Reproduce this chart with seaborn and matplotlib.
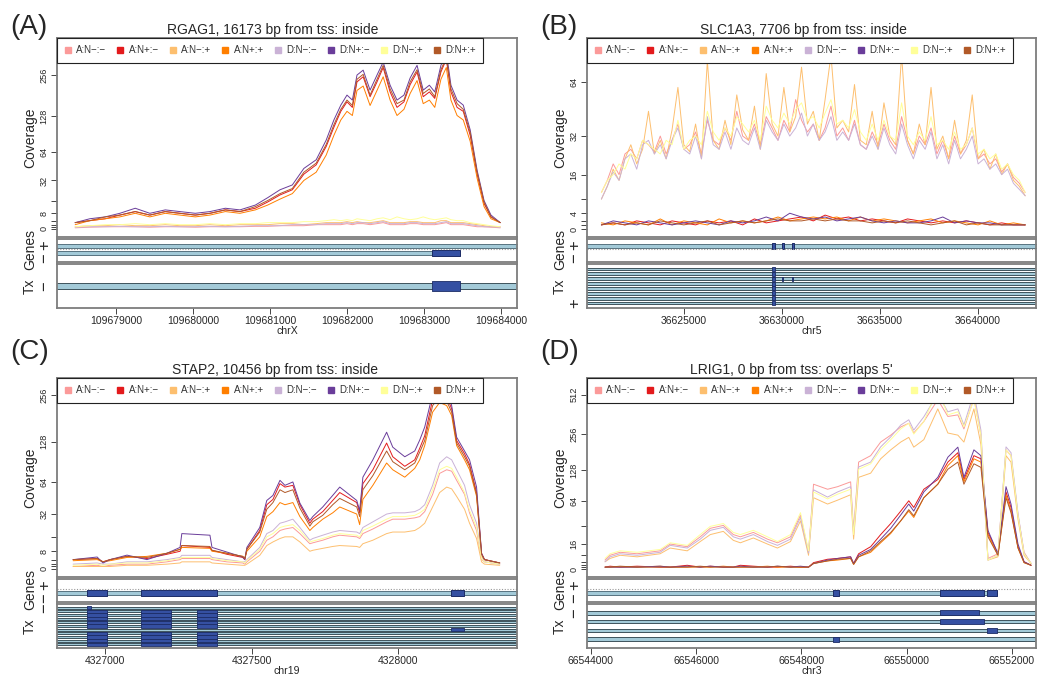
import numpy as np
import matplotlib
matplotlib.use("Agg")
import matplotlib.pyplot as plt
import seaborn as sns
from matplotlib.lines import Line2D

sns.set_style("white")
plt.rcParams['font.family'] = ['Liberation Sans', 'DejaVu Sans']

# ---------------- data ----------------
SAMPLES = ["A:N\u2212:\u2212", "A:N+:\u2212", "A:N\u2212:+", "A:N+:+",
           "D:N\u2212:\u2212", "D:N+:\u2212", "D:N\u2212:+", "D:N+:+"]

# Panel A: RGAG1 (chrX)
A_start = 109678000
A_off = [470, 660, 860, 1050, 1250, 1440, 1640, 1830, 2030, 2220,
         2420, 2610, 2810, 2970, 3130, 3290, 3440, 3600, 3730, 3830,
         3920, 4000, 4070, 4130, 4210, 4300, 4390, 4470, 4560, 4650,
         4740, 4820, 4910, 4990, 5070, 5140, 5220, 5290, 5350, 5430,
         5510, 5600, 5690, 5780, 5870, 5990]
A_Nm_m = [0.5,0.8,1,1,1,0.8,1,1,0.8,1, 1,1,1.2,1.2,1.5,1.5,1.5,2,2,2, 2,2.5,2,2.5,2.5,2,2.5,3,2,2,
          2,2.5,2.5,2,2,2,2.5,3,2,2, 2,1.5,1,1,0.8,0.5]
A_Np_m = [3,4,5,7,9,7,9,8,7,8, 10,9,11,15,20,24,38,48,72,105, 140,165,150,230,250,180,230,290,195,150,
          165,220,270,180,195,175,270,330,195,150, 140,90,38,14,6,3]
A_Nm_p = [1,1.5,1.5,2,1.5,1.5,2,1.5,1.5,2, 1.5,2,2,2,2.5,2.5,2,2.5,3,3, 3,3.5,3,3.5,3,3,3.5,4,3,3,
          3,3.5,3.5,3,3,3,4,4,3,3, 3,2.5,2,1.5,1,1]
A_Np_p = [2,4,5,6,8,6,8,7,6,7, 9,8,10,13,17,21,32,40,60,90, 120,140,130,200,215,155,200,250,170,130,
          145,190,235,160,170,150,240,290,170,130, 120,80,34,12,5,3]
D_Nm_m_A = [0.8,1,1,1.2,1,1,1.2,1,1,1.2, 1,1.2,1.5,1.5,1.5,2,2,2,2.5,2.5, 2.5,3,2.5,3,3,2.5,3,3.5,2.5,2.5,
            2.5,3,3,2.5,2.5,2.5,3,3.5,2.5,2.5, 2.5,2,1.5,1,1,0.8]
D_Np_m_A = [3,5,6,8,11,8,10,9,8,9, 11,10,13,18,24,28,44,54,82,120, 156,185,170,257,278,201,257,316,218,170,
            185,245,300,201,218,195,300,370,218,170, 156,100,42,16,7,3]
D_Nm_p_A = [1,1.5,2,2,2.5,2,2.5,2,2,2.5, 2,2.5,2.5,3,3,3,3.5,3.5,4,4.5, 4,4.5,4,5,4.5,4,5,5.5,4.5,6,
            5,4.5,5,6,5,4.5,5,5.5,4.5,4, 4,3,2.5,2,1.5,1]
D_Np_p_A = [3,4,6,7,9,7,9,8,7,8, 10,9,12,16,21,25,40,50,75,110, 145,170,155,240,260,185,240,300,205,160,
            170,230,280,190,205,180,280,340,205,160, 145,95,40,15,6,3]

# Panel B: SLC1A3 (chr5); offsets in units of 100 bp
B_start = 36620800
B_hi_off = [0,3,6,9,12,15,18,21,24,27,30,33,36,39,42,45,48,51,54,57,60,63,66,69,72,75,78,81,84,87,
            90,93,96,99,102,105,108,111,114,117,120,123,126,129,132,135,138,141,144,147,150,153,156,
            159,162,165,168,171,174,177,180,183,186,189,192,195,198,201,204,207,210,213,216]
B_lo_off = [0,6,12,18,24,30,36,42,48,54,60,66,72,78,84,90,96,102,108,114,120,126,132,138,144,150,
            156,162,168,174,180,186,192,198,204,210,216]
B_Nm_m = [10,14,20,16,24,26,22,30,28,25, 32,24,30,38,26,28,34,24,40,30, 28,36,30,45,32,30,38,28,42,36,
          30,40,34,52,40,34,38,30,36,48, 32,36,30,40,28,26,34,28,38,30, 26,42,30,24,32,28,36,24,30,22,
          32,24,28,36,22,24,20,22,17,20, 15,13,10]
B_Nm_p = [8,12,18,14,22,28,20,26,45,24, 30,22,35,60,28,25,38,22,80,30, 26,40,28,55,35,30,48,26,70,38,
          32,60,34,42,75,38,45,30,52,85, 36,40,34,62,30,28,45,26,50,32, 28,85,30,24,38,28,60,26,32,22,
          40,24,30,55,22,26,18,24,16,20, 14,12,9]
B_DNm_m = [8,12,17,14,22,24,18,28,30,24, 28,22,30,36,26,24,32,22,42,28, 26,34,26,36,30,28,36,26,40,34,
           30,38,32,36,44,32,38,30,34,42, 30,34,30,38,28,26,32,26,36,28, 24,38,28,22,30,26,34,22,28,20,
           30,22,26,32,20,22,18,20,16,18, 13,11,9]
B_DNm_p = [10,14,16,20,18,24,22,30,28,26, 24,30,28,40,26,30,32,28,45,34, 30,36,32,42,38,34,40,30,48,40,
           36,44,38,46,50,40,42,36,44,52, 38,40,36,46,34,30,38,30,40,32, 30,50,32,28,34,30,42,28,30,26,
           34,26,28,36,24,26,22,24,18,20, 16,14,10]
B_Np_m = [1,1.5,1,2,1.5,1,2,1.5,1,2, 1.5,2,1,2.5,1.5,2,2.5,3,2,3.5, 2.5,3,2,2.5,2,1.5,2.5,2,1.5,2,
          1.5,2,1.5,1,1.5,1,1]
B_Np_p = [1.5,1,2,1.5,1,2.5,1,2,1.5,1, 2.5,1.5,2,1.5,2,3,2,2.5,3,2.5, 3,2,3,2,2.5,2,1.5,2,2.5,1.5,
          2,1.5,1,2,1,1.5,1]
B_DNp_m = [1,2,1.5,1,2,1.5,1,1.5,2,1.5, 1,2,1.5,2,3,2,4,3,2.5,3, 2,2.5,3,2,1.5,2,1.5,1.5,2,3,
           1.5,2,1.5,1.5,1,1,1]
B_DNp_p = [1,1.5,1,1.5,1,2,1.5,1,1.5,2, 1,1.5,2,1.5,2,2.5,2,2,2.5,2, 2.5,2,2,1.5,2,1.5,2,1.5,1,1.5,
           2,1,1.5,1,1,1,1]

# Panel C: STAP2 (chr19)
C_start = 4326000
C_off = [891, 973, 993, 1017, 1075, 1143, 1211, 1256, 1262, 1358,
         1365, 1416, 1470, 1477, 1484, 1528, 1552, 1573, 1597, 1614,
         1641, 1665, 1699, 1709, 1743, 1777, 1801, 1859, 1869, 1880,
         1914, 1961, 1982, 2023, 2057, 2074, 2091, 2118, 2142, 2166,
         2183, 2200, 2227, 2244, 2268, 2285, 2295, 2347]
C_Nm_m = [1,1.5,1,1.5,2,2,3,4,4.5,4.5, 4,3,2.5,2,3,8,14,16,20,21, 22,18,12,12.5,14,16,17,16,15,18,
          21,26,28,28,29,30,34,50,75,80, 78,66,50,33,20,4,3,2]
C_Np_m = [4,4.5,3,4,5.5,4.5,6.5,8,11,10, 8.5,6.5,5,4,9,20,40,45,62,58, 60,40,25,28,34,44,52,42,33,62,
          80,125,100,85,95,115,140,240,260,250, 210,130,105,88,52,7,4,2.5]
C_Nm_p = [1,1,1,1,1.5,1.5,2,2.5,3,3, 2.5,2,1.5,1.5,2,6,11,13,15,16, 16,13,8,8.5,9.5,10.5,11,10.5,10,12,
          14,18,19,19,20,22,25,38,52,58, 56,48,36,25,15,3,2,1.5]
C_Np_p = [3.5,4,3,3.5,5,5.5,7,9,10,9.5, 8,7,5.5,4.5,8,16,30,34,42,40, 42,30,20,22,28,33,38,32,24,45,
          60,90,80,70,82,95,120,200,230,220, 190,120,95,80,48,6,4,2.5]
C_DNm_m = [2,2.5,2,2,3,3,4,5,6,6, 5,4,3,3,4,10,18,20,25,26, 28,22,14,15,17,19,20,19,18,22,
           26,32,33,33,34,36,40,60,90,100, 95,80,60,40,25,5,3,2]
C_DNp_m = [4,5.2,2.5,4,6.1,4,7,10,18,17, 10,7.6,5.2,4,10,22,44,49,66,60, 64,41.5,27,30,38,49,58,44,35,70,
           95,148,117,100,110,131,160,260,300,280, 220,137,110,95,58,7,4,2.5]
C_DNm_p = [1.5,2,1.5,2,2.5,2.5,3.5,4.5,5,5, 4.5,3.5,3,2.5,3.5,9,16,18,22,23, 24,20,13,13.5,15,17,18,17,16,20,
           23,28,30,30,31,33,36,55,80,85, 82,70,52,35,22,4.5,3,2]
C_DNp_p = [4,4.5,3,4,5.5,5,7,9,11,10.5, 8.5,7,5.5,4.5,9,19,36,42,55,52, 55,37,23,26,31,40,46,38,30,55,
           72,110,92,80,90,108,130,220,250,235, 200,125,100,85,50,6.5,4,2.5]

# Panel D: LRIG1 (chr3)
D_start = 66544000
D_off = [267, 362, 552, 876, 1314, 1505, 1829, 2076, 2267, 2515,
         2705, 2838, 3086, 3353, 3543, 3791, 3981, 4134, 4229, 4496,
         4686, 4934, 4991, 5086, 5315, 5505, 5696, 5886, 6039, 6134,
         6325, 6591, 6782, 6972, 7087, 7277, 7410, 7544, 7734, 7887,
         7982, 8115, 8230, 8363]
D_Nm_m = [5,8,10,9,11,16,14,22,30,33, 24,22,26,20,17,22,45,10,95,85, 90,100,28,150,170,220,250,290,310,260,
          320,470,350,360,280,480,250,6,9,190, 170,45,10,3]
D_Np_m = [1,1.5,1,1.5,1,1,2,1,1.5,1, 1,2,1.5,1,1,1.5,1,1,3.5,5.5, 6,7,3,9,14,24,35,50,65,55,
          85,105,150,180,105,170,160,26,9,80, 55,14,4,2]
D_Nm_p = [4,6,8,7,9,13,11,18,24,27, 19,17,21,16,13,18,38,8,70,60, 66,75,20,110,120,160,190,220,240,200,
          230,400,260,250,220,400,210,5,7,170, 150,40,8,3]
D_Np_p = [1,1,1,1,1.5,1,1,1,1,1.5, 1,1,1,1.5,1,1,1,1,3,4.5, 5,6,2.5,7,10,17,25,38,50,42,
          70,95,140,170,100,160,150,24,8,75, 50,13,3.5,2]
D_DNm_m = [4,7,9,8,10,15,13,20,28,31, 22,20,24,18,15,20,42,9.5,84,71, 80,90,25,136,150,201,242,300,330,274,
           348,520,380,400,300,528,274,5,8,201, 180,47,9.5,3]
D_DNp_m = [1,1,1,1,1.5,1,1.5,1,1.5,1, 1,1.5,1,1,1.5,1,1.5,1,3,5, 6,7,3,8,12,20,30,45,60,50,
           80,110,165,200,110,190,170,28,9,90, 60,16,4,2]
D_DNm_p = [6,9,11,10,12,17,15,24,32,35, 26,24,28,22,18,24,48,11,80,68, 76,85,24,130,145,190,230,280,310,255,
           320,560,360,380,290,470,250,5,8,190, 170,44,9,3]
D_DNp_p = [1,1,1.5,1,1,1,1,1.5,1,1, 1,1,1,1,1.5,1,1,1,3,4.5, 5.5,6,2.5,7,11,18,26,38,52,44,
           70,95,130,150,95,145,135,22,8,70, 48,13,3.5,2]

# titles / axes
TITLES = ["RGAG1, 16173 bp from tss: inside", "SLC1A3, 7706 bp from tss: inside",
          "STAP2, 10456 bp from tss: inside", "LRIG1, 0 bp from tss: overlaps 5'"]
CHROMS = ["chrX", "chr5", "chr19", "chr3"]
XTICKS_A = [109679000, 109680000, 109681000, 109682000, 109683000, 109684000]
XTICKS_B = [36625000, 36630000, 36635000, 36640000]
XTICKS_C = [4327000, 4327500, 4328000]
XTICKS_D = [66544000, 66546000, 66548000, 66550000, 66552000]
YT_AC = [0, 1, 2, 4, 8, 16, 32, 64, 128, 256]
YL_AC = ["0", "", "", "", "8", "", "32", "64", "128", "256"]
YT_B = [0, 1, 2, 4, 8, 16, 32, 64]
YL_B = ["0", "", "", "4", "", "16", "32", "64"]
YT_D = [0, 1, 2, 4, 8, 16, 32, 64, 128, 256, 512]
YL_D = ["0", "", "", "", "", "16", "", "64", "128", "256", "512"]

# gene models (start, end)
A_gene_plus = [(109677000, 109685500)]
A_gene_minus = [(109677000, 109683470)]
A_gene_minus_exons = [(109683104, 109683470)]
A_tx_exons = [[(109683104, 109683470)]]

B_gene_plus = [(36619000, 36644000)]
B_gene_plus_exons = [(36629520, 36629640), (36629980, 36630090), (36630490, 36630600)]
B_tx_exons = [[(36629520, 36629640)], [(36629520, 36629640)],
              [(36629520, 36629640), (36630000, 36630070), (36630510, 36630580)],
              [(36629520, 36629640)], [(36629520, 36629640)], [(36629520, 36629640)],
              [(36629520, 36629640)], [(36629520, 36629640)]]

C_gene_minus = [(4326700, 4328500)]
C_gene_minus_exons = [(4326939, 4327007), (4327123, 4327382), (4328180, 4328224)]
C_ex3 = [(4326939, 4327007), (4327123, 4327225), (4327314, 4327382)]
C_tx_exons = [[(4326939, 4326952)], C_ex3, C_ex3, C_ex3, C_ex3, C_ex3,
              [(4328180, 4328224)], C_ex3, C_ex3, C_ex3, C_ex3]

D_gene_minus = [(66543000, 66551715)]
D_gene_minus_exons = [(66548591, 66548705), (66550629, 66551468), (66551525, 66551715)]
D_tx_exons = [[(66550629, 66551372)], [(66550629, 66551468)],
              [(66551525, 66551715)], [(66548591, 66548705)]]

# ---------------- drawing ----------------
W, H = 1039, 675
fig = plt.figure(figsize=(W / 100, H / 100), dpi=100)
COLORS = sns.color_palette("Paired", 12)[4:12]
FRAME = "#7d7d7d"
BODY_FC, BODY_EC = "#a3cad8", "#587380"
EXON_FC, EXON_EC = "#3550a2", "#1c2c66"


def fwd(v):
    return np.log2(np.maximum(np.asarray(v, float) + 32.0, 1e-6))


def inv(u):
    return np.power(2.0, u) - 32.0


def px_axes(x0, x1, y0, y1):
    return fig.add_axes([x0 / W, 1 - y1 / H, (x1 - x0) / W, (y1 - y0) / H])


def frame(ax):
    for s in ax.spines.values():
        s.set_color(FRAME)
        s.set_linewidth(1.3)
        s.set_visible(True)


def coverage(ax, series, xlim, ylim, yt, yl):
    for (xs, ys), c in zip(series, COLORS):
        sns.lineplot(x=np.asarray(xs), y=np.asarray(ys, float), ax=ax, color=c,
                     linewidth=0.7, estimator=None, sort=False, legend=False)
    ax.set_yscale('function', functions=(fwd, inv))
    ax.set_xlim(xlim)
    ax.set_ylim(ylim)
    ax.set_yticks(yt)
    ax.set_yticklabels(yl, rotation=90, va='center', fontsize=6.6)
    ax.yaxis.set_minor_locator(matplotlib.ticker.NullLocator())
    ax.tick_params(axis='y', length=4, width=0.7, pad=2, color="#444444", left=True)
    ax.set_xticks([])
    ax.set_xlabel("")
    ax.set_ylabel("")
    frame(ax)
    handles = [Line2D([], [], ls='none', marker='s', ms=4, color=c) for c in COLORS]
    leg = ax.legend(handles, SAMPLES, loc='upper left', bbox_to_anchor=(0, 1), ncol=8,
                    frameon=True, fancybox=False, fontsize=7, handlelength=0.7,
                    handletextpad=0.55, columnspacing=1.05, borderaxespad=0,
                    borderpad=0.75, labelcolor="#333333")
    leg.get_frame().set_edgecolor("#222222")
    leg.get_frame().set_linewidth(0.8)
    leg.get_frame().set_alpha(1)


def genes(ax, xlim, plus, plus_ex, minus, minus_ex):
    ax.set_xlim(xlim)
    ax.set_ylim(-1.29, 2.0)
    ax.axhline(0.5, color="#9a9a9a", ls=(0, (1, 1.5)), lw=0.8)
    for y, bodies, exons in ((1, plus, plus_ex), (0, minus, minus_ex)):
        for s, e in bodies:
            ax.broken_barh([(s, e - s)], (y - 0.25, 0.5), facecolors=BODY_FC,
                           edgecolors=BODY_EC, linewidth=0.7)
        for s, e in exons:
            ax.broken_barh([(s, e - s)], (y - 0.4, 0.8), facecolors=EXON_FC,
                           edgecolors=EXON_EC, linewidth=0.7)
    ax.set_xticks([])
    ax.set_yticks([])
    frame(ax)


def tx(ax, xlim, rows, body_h, exon_h, ticks, chrom):
    n = len(rows)
    ax.set_xlim(xlim)
    ax.set_ylim(n + 1, 0)
    for i, exons in enumerate(rows, start=1):
        ax.broken_barh([(xlim[0] - 1e5, xlim[1] - xlim[0] + 2e5)], (i - body_h / 2, body_h),
                       facecolors=BODY_FC, edgecolors="#3e535c", linewidth=0.7)
        for s, e in exons:
            ax.broken_barh([(s, e - s)], (i - exon_h / 2, exon_h), facecolors=EXON_FC,
                           edgecolors=EXON_EC, linewidth=0.6)
    ax.set_yticks([])
    ax.set_xticks(ticks)
    ax.set_xticklabels([str(t) for t in ticks], fontsize=7.5)
    ax.tick_params(axis='x', length=4, width=0.7, pad=2, color="#444444", bottom=True)
    ax.set_xlabel(chrom, fontsize=7.6, labelpad=0)
    frame(ax)


def side_text(x, y, s, size):
    fig.text(x / W, 1 - y / H, s, rotation=90, ha='center', va='center', fontsize=size)


panels = [
    dict(x0=57, x1=517, top=38, letter="(A)", lx=10, ly=27, tx_c=273, ty=30,
         series=[(A_off, A_Nm_m), (A_off, A_Np_m), (A_off, A_Nm_p), (A_off, A_Np_p),
                 (A_off, D_Nm_m_A), (A_off, D_Np_m_A), (A_off, D_Nm_p_A), (A_off, D_Np_p_A)],
         start=A_start, unit=1, xlim=(109678234, 109684208), ylim=(-3.5, 459),
         yt=YT_AC, yl=YL_AC, gp=A_gene_plus, gpe=[], gm=A_gene_minus, gme=A_gene_minus_exons,
         rows=A_tx_exons, bh=0.28, eh=0.46, ticks=XTICKS_A, chrom=CHROMS[0], txlab="\u2212",
         txrow=1, title=TITLES[0]),
    dict(x0=587, x1=1036, top=38, letter="(B)", lx=540, ly=27, tx_c=803, ty=30,
         series=[(B_hi_off, B_Nm_m), (B_lo_off, B_Np_m), (B_hi_off, B_Nm_p), (B_lo_off, B_Np_p),
                 (B_hi_off, B_DNm_m), (B_lo_off, B_DNp_m), (B_hi_off, B_DNm_p), (B_lo_off, B_DNp_p)],
         start=B_start, unit=100, xlim=(36620066, 36642950), ylim=(-1.85, 101),
         yt=YT_B, yl=YL_B, gp=B_gene_plus, gpe=B_gene_plus_exons, gm=[], gme=[],
         rows=B_tx_exons, bh=0.55, eh=0.8, ticks=XTICKS_B, chrom=CHROMS[1], txlab="+",
         txrow=8, title=TITLES[1]),
    dict(x0=57, x1=517, top=378, letter="(C)", lx=10, ly=352, tx_c=275, ty=370,
         series=[(C_off, C_Nm_m), (C_off, C_Np_m), (C_off, C_Nm_p), (C_off, C_Np_p),
                 (C_off, C_DNm_m), (C_off, C_DNp_m), (C_off, C_DNm_p), (C_off, C_DNp_p)],
         start=C_start, unit=1, xlim=(4326836, 4328406), ylim=(-3.1, 325),
         yt=YT_AC, yl=YL_AC, gp=[], gpe=[], gm=C_gene_minus, gme=C_gene_minus_exons,
         rows=C_tx_exons, bh=0.6, eh=0.85, ticks=XTICKS_C, chrom=CHROMS[2], txlab="\u2212",
         txrow=1, title=TITLES[2]),
    dict(x0=587, x1=1036, top=378, letter="(D)", lx=540, ly=352, tx_c=791, ty=370,
         series=[(D_off, D_Nm_m), (D_off, D_Np_m), (D_off, D_Nm_p), (D_off, D_Np_p),
                 (D_off, D_DNm_m), (D_off, D_DNp_m), (D_off, D_DNm_p), (D_off, D_DNp_p)],
         start=D_start, unit=1, xlim=(66543924, 66552457), ylim=(-3.9, 682),
         yt=YT_D, yl=YL_D, gp=[], gpe=[], gm=D_gene_minus, gme=D_gene_minus_exons,
         rows=D_tx_exons, bh=0.4, eh=0.6, ticks=XTICKS_D, chrom=CHROMS[3], txlab="\u2212",
         txrow=1, title=TITLES[3]),
]

for i, p in enumerate(panels):
    top = p['top']
    x0, x1 = p['x0'], p['x1']
    ax_c = px_axes(x0, x1, top, top + 199)
    ax_g = px_axes(x0, x1, top + 201, top + 224)
    ax_t = px_axes(x0, x1, top + 226, top + 270)

    series = [(p['start'] + p['unit'] * np.asarray(o), v) for o, v in p['series']]
    coverage(ax_c, series, p['xlim'], p['ylim'], p['yt'], p['yl'])
    genes(ax_g, p['xlim'], p['gp'], p['gpe'], p['gm'], p['gme'])
    tx(ax_t, p['xlim'], p['rows'], p['bh'], p['eh'], p['ticks'], p['chrom'])

    fig.text(p['tx_c'] / W, 1 - p['ty'] / H, p['title'], ha='center', va='center', fontsize=10)
    fig.text(p['lx'] / W, 1 - p['ly'] / H, p['letter'], ha='left', va='center', fontsize=20)

    lx = x0 - 27
    side_text(lx, top + 100, "Coverage", 10)
    side_text(lx, top + 212, "Genes", 10)
    side_text(lx, top + 248, "Tx", 10)
    sx = x0 - 12
    side_text(sx, top + 207, "+", 12)
    side_text(sx, top + 220, "\u2212", 12)
    n = len(p['rows'])
    tyy = top + 226 + 44 * p['txrow'] / (n + 1)
    side_text(sx, tyy, p['txlab'], 12)

fig.savefig("out.png", dpi=100)
